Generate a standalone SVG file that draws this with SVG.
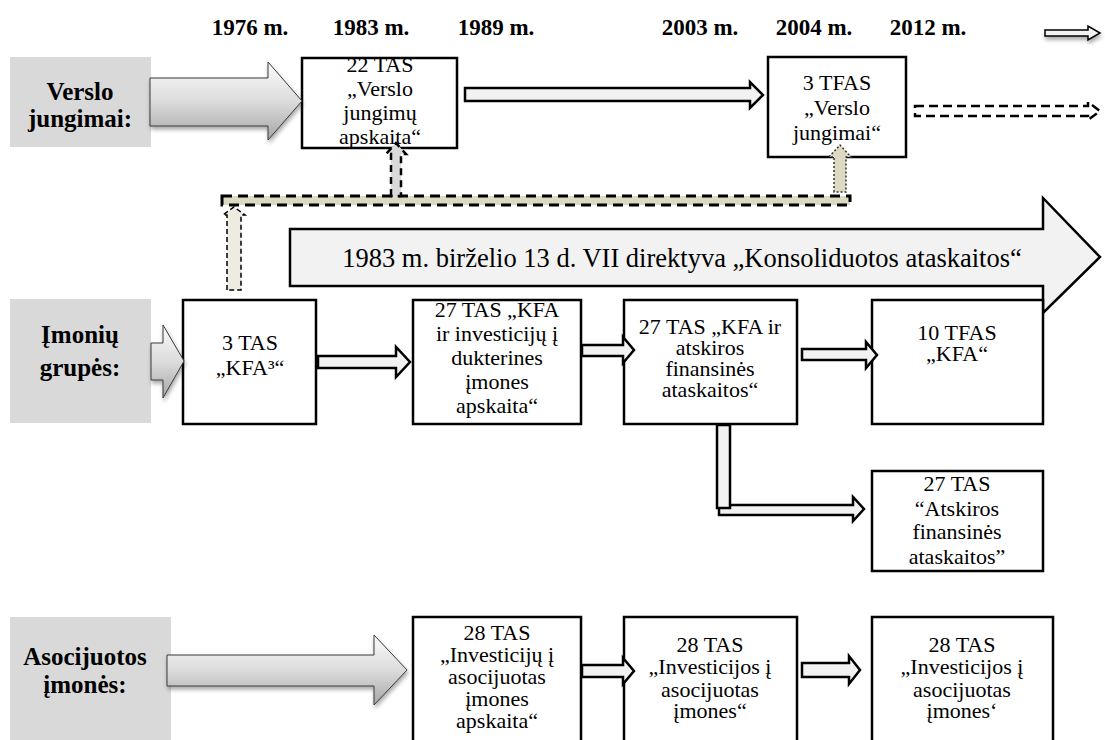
<svg xmlns="http://www.w3.org/2000/svg" width="1105" height="740" viewBox="0 0 1105 740">
<defs>
<linearGradient id="g" x1="0" y1="0" x2="0" y2="1"><stop offset="0" stop-color="#fbfbfb"/><stop offset="0.5" stop-color="#dcdcdc"/><stop offset="1" stop-color="#a6a6a6"/></linearGradient>
<filter id="sh" x="-10%" y="-20%" width="130%" height="150%"><feDropShadow dx="1" dy="3" stdDeviation="2" flood-color="#000" flood-opacity="0.35"/></filter>
</defs>
<style>
text{font-family:"Liberation Serif","Times New Roman","DejaVu Serif",serif;fill:#000}
.lbl{fill:#d9d9d9}
.lt{font-weight:bold;font-size:25px;text-anchor:middle}
.box{fill:#fff;stroke:#000;stroke-width:2.5}
.bt{font-size:22px;text-anchor:middle}
.yr{font-weight:bold;font-size:23px;text-anchor:middle}
.big{fill:url(#g);stroke:#3a3a3a;stroke-width:1;filter:url(#sh)}
.sa{fill:#f2f2f2;stroke:#000;stroke-width:2.5}
</style>
<rect width="1105" height="740" fill="#fff"/>

<g id="years">
<text class="yr" x="250" y="35">1976 m.</text>
<text class="yr" x="371" y="35">1983 m.</text>
<text class="yr" x="496" y="35">1989 m.</text>
<text class="yr" x="700" y="35">2003 m.</text>
<text class="yr" x="814" y="35">2004 m.</text>
<text class="yr" x="928" y="35">2012 m.</text>
<path d="M1045,30 H1088 V26 L1100,33 L1088,40 V36 H1045 Z" fill="#f2f2f2" stroke="#000" stroke-width="1.5" filter="url(#sh)"/>
</g>

<g id="label-verslo">
<rect class="lbl" x="10" y="57" width="141" height="90"/>
<text class="lt" x="80" y="100">Verslo</text>
<text class="lt" x="80" y="127">jungimai:</text>
</g>
<g id="label-imoniu">
<rect class="lbl" x="10" y="299" width="141" height="124"/>
<text class="lt" x="80" y="343">Įmonių</text>
<text class="lt" x="80" y="376">grupės:</text>
</g>
<g id="label-asoc">
<rect class="lbl" x="10" y="617" width="161" height="125"/>
<text class="lt" x="85" y="665" font-size="27">Asocijuotos</text>
<text class="lt" x="85" y="693" font-size="27">įmonės:</text>
</g>

<g id="banner">
<path d="M290,229 H1043 V198 L1100,257 L1043,313 V286 H290 Z" fill="#f2f2f2" stroke="#000" stroke-width="2.5"/>
<text x="682" y="267" font-size="26.5" text-anchor="middle">1983 m. birželio 13 d. VII direktyva „Konsoliduotos ataskaitos“</text>
</g>

<g id="tas22">
<rect class="box" x="302" y="58" width="155" height="90"/>
<text class="bt"><tspan x="380" y="72">22 TAS</tspan><tspan x="380" y="96">„Verslo</tspan><tspan x="380" y="120">jungimų</tspan><tspan x="380" y="144">apskaita“</tspan></text>
</g>
<g id="tfas3">
<rect class="box" x="768" y="57" width="138" height="100"/>
<text class="bt"><tspan x="837" y="90">3 TFAS</tspan><tspan x="837" y="115">„Verslo</tspan><tspan x="837" y="140">jungimai“</tspan></text>
</g>
<g id="tas3">
<rect class="box" x="183" y="300" width="133" height="124"/>
<text class="bt"><tspan x="250" y="350">3 TAS</tspan><tspan x="250" y="375">„KFA³“</tspan></text>
</g>
<g id="tas27a">
<rect class="box" x="413" y="300" width="168" height="124"/>
<text class="bt"><tspan x="497" y="317">27 TAS „KFA</tspan><tspan x="497" y="341">ir investicijų į</tspan><tspan x="497" y="365">dukterines</tspan><tspan x="497" y="389">įmones</tspan><tspan x="497" y="413">apskaita“</tspan></text>
</g>
<g id="tas27b">
<rect class="box" x="624" y="300" width="173" height="124"/>
<text class="bt"><tspan x="710" y="334">27 TAS „KFA ir</tspan><tspan x="710" y="355">atskiros</tspan><tspan x="710" y="376">finansinės</tspan><tspan x="710" y="397">ataskaitos“</tspan></text>
</g>
<g id="tfas10">
<rect class="box" x="872" y="300" width="171" height="124"/>
<text class="bt"><tspan x="957" y="340">10 TFAS</tspan><tspan x="957" y="361">„KFA“</tspan></text>
</g>
<g id="tas27c">
<rect class="box" x="872" y="471" width="171" height="100"/>
<text class="bt"><tspan x="957" y="491">27 TAS</tspan><tspan x="957" y="516">“Atskiros</tspan><tspan x="957" y="539">finansinės</tspan><tspan x="957" y="564">ataskaitos”</tspan></text>
</g>
<g id="tas28a">
<rect class="box" x="413" y="617" width="168" height="125"/>
<text class="bt"><tspan x="497" y="640">28 TAS</tspan><tspan x="497" y="662">„Investicijų į</tspan><tspan x="497" y="684">asocijuotas</tspan><tspan x="497" y="706">įmones</tspan><tspan x="497" y="728">apskaita“</tspan></text>
</g>
<g id="tas28b">
<rect class="box" x="624" y="617" width="173" height="125"/>
<text class="bt"><tspan x="710" y="652">28 TAS</tspan><tspan x="710" y="674">„Investicijos į</tspan><tspan x="710" y="697">asocijuotas</tspan><tspan x="710" y="718">įmones“</tspan></text>
</g>
<g id="tas28c">
<rect class="box" x="872" y="617" width="181" height="125"/>
<text class="bt"><tspan x="962" y="652">28 TAS</tspan><tspan x="962" y="674">„Investicijos į</tspan><tspan x="962" y="697">asocijuotas</tspan><tspan x="962" y="718">įmones‘</tspan></text>
</g>

<g id="connectors">
<path class="big" d="M150,78 H268 V62 L302,101 L268,140 V126 H150 Z"/>
<path class="big" d="M151,343 H163 V325 L184,361 L163,398 V380 H151 Z"/>
<path class="big" d="M167,655 H374 V635 L407,670 L374,705 V686 H167 Z"/>
<path class="sa" d="M465,88 H750 V82 L763,95 L750,108 V101 H465 Z"/>
<path d="M915,106 H1088 V102 L1100,111 L1088,120 V116 H915 Z" fill="#fff" stroke="#000" stroke-width="2.5" stroke-dasharray="9 5"/>
<rect x="222" y="196" width="628" height="9" fill="#ddd9c3" stroke="#000" stroke-width="3" stroke-dasharray="10 6"/>
<path d="M391,196 V154 H386 L396,143 L406,154 H401 V196 Z" fill="#d9d9d9" stroke="#000" stroke-width="2.5" stroke-dasharray="7 5"/>
<path d="M834,192 V157 H829 L840,145 L851,157 H846 V192 Z" fill="#ddd9c3" stroke="#333" stroke-width="1.5" stroke-dasharray="2 2"/>
<path d="M227,290 V215 H223 L234,207 L245,215 H241 V290 Z" fill="#eeece1" stroke="#000" stroke-width="1.5" stroke-dasharray="5 3"/>
<path class="sa" d="M318,356 H396 V347 L410,362 L396,377 V368 H318 Z"/>
<path class="sa" d="M582,345 H623 V337 L634,350 L623,363 V356 H582 Z"/>
<path class="sa" d="M802,349 H866 V342 L877,355 L866,368 V360 H802 Z"/>
<path class="sa" d="M719,505 H853 V497 L864,509 L853,521 V515 H719 Z"/>
<rect class="sa" x="717" y="425" width="13" height="83"/>
<path class="sa" d="M582,665 H623 V658 L634,671 L623,684 V677 H582 Z"/>
<path class="sa" d="M802,663 H849 V656 L860,670 L849,684 V677 H802 Z"/>
</g>
</svg>
